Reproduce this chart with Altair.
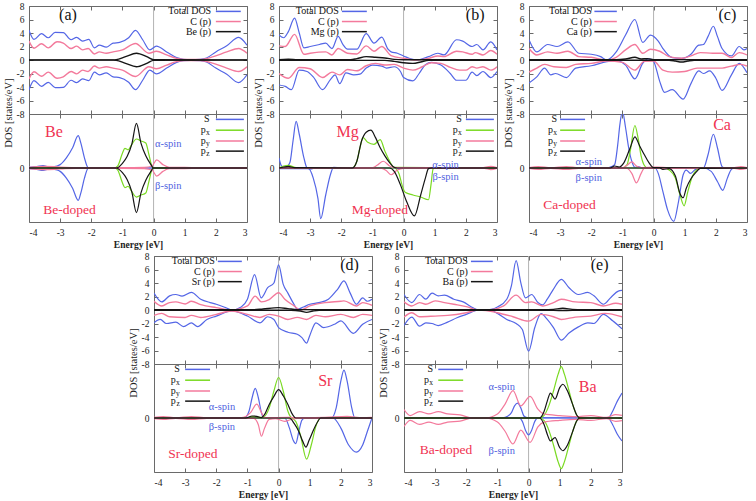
import altair as alt
import pandas as pd

# ---------------- data ----------------
XT = [-4, -3, -2, -1, 0, 1, 2, 3]
YT_TOP = [-8, -6, -4, -2, 0, 2, 4, 6, 8]
YT_BOT = [0]

# ---- (a) Be : spin symmetric ----
A_TOT = [(-4, 4.4), (-3.84, 3.05), (-3.6, 3.9), (-3.38, 3.3), (-3.16, 4.1), (-2.9, 4.05), (-2.65, 3.0), (-2.47, 3.35),
         (-2.28, 2.8), (-2.08, 3.05), (-1.9, 1.8), (-1.74, 2.2), (-1.52, 1.9), (-1.3, 2.5), (-1.09, 2.6), (-0.8, 3.3),
         (-0.58, 4.4), (-0.35, 3.0), (-0.12, 1.5), (0.09, 2.05), (0.42, 1.2), (0.74, 0.35), (0.95, 0.1), (1.2, 0.05),
         (1.5, 0.1), (1.7, 0.3), (2.0, 1.2), (2.35, 2.1), (2.73, 3.35), (3.0, 2.2)]
A_CP = [(-4, 2.8), (-3.84, 1.75), (-3.6, 2.4), (-3.38, 1.8), (-3.1, 2.7), (-2.9, 2.5), (-2.65, 1.7), (-2.47, 2.05),
        (-2.28, 1.5), (-2.1, 1.7), (-1.9, 0.9), (-1.74, 1.2), (-1.52, 1.0), (-1.3, 1.2), (-1.0, 1.5), (-0.58, 2.45),
        (-0.15, 1.0), (0.09, 1.3), (0.42, 0.75), (0.74, 0.25), (1.0, 0.08), (1.5, 0.08), (1.92, 0.5), (2.35, 1.2),
        (2.73, 1.7), (3.0, 1.0)]
A_X = [(-4, 0.02), (-1.3, 0.02), (-1.2, 0.05), (-0.9, 0.5), (-0.55, 1.0), (-0.2, 0.45), (0.0, 0.05), (3.0, 0.02)]
A_S = [(-4, 0.1), (-3.75, 0.2), (-3.55, 0.35), (-3.35, 0.15), (-3.1, 0.3), (-3.0, 0.5), (-2.8, 1.5), (-2.6, 3.0),
       (-2.42, 4.8), (-2.33, 3.6), (-2.22, 1.5), (-2.1, 0.05), (-1.8, 0.0), (3.0, 0.0)]
A_PX = [(-4, 0.0), (-1.25, 0.0), (-1.15, 0.3), (-1.0, 2.2), (-0.92, 2.9), (-0.82, 2.7), (-0.7, 3.5), (-0.55, 4.3),
        (-0.4, 4.0), (-0.25, 3.7), (-0.15, 2.0), (-0.05, 0.2), (0.0, 0.0), (3.0, 0.0)]
A_PY = [(-4, 0.1), (-3.5, 0.25), (-3.0, 0.15), (-2.5, 0.05), (-1.0, 0.05), (-0.3, 0.1), (-0.05, 0.3), (0.1, 1.2),
        (0.3, 0.5), (0.5, 0.1), (1.0, 0.08), (2.0, 0.05), (3.0, 0.05)]
A_PZ = [(-4, 0.0), (-1.2, 0.0), (-1.0, 0.7), (-0.85, 1.7), (-0.7, 3.5), (-0.55, 6.6), (-0.4, 3.6), (-0.25, 1.8),
        (-0.1, 0.6), (0.0, 0.0), (3.0, 0.0)]

# ---- (b) Mg ----
B_TOT_UP = [(-4, 3.7), (-3.85, 3.3), (-3.7, 4.2), (-3.5, 6.2), (-3.35, 4.0), (-3.2, 1.8), (-3.0, 2.0), (-2.7, 2.3),
            (-2.5, 2.5), (-2.3, 1.7), (-2.1, 3.5), (-1.95, 2.3), (-1.8, 1.6), (-1.5, 1.6), (-1.2, 3.9), (-0.95, 2.5),
            (-0.7, 3.4), (-0.5, 1.6), (-0.4, 1.2), (-0.2, 1.0), (0.0, 0.6), (0.2, 0.2), (0.45, 0.0), (0.8, 0.5),
            (1.1, 1.0), (1.3, 0.75), (1.7, 3.0), (1.9, 2.8), (2.2, 2.0), (2.35, 2.3), (2.55, 1.5), (2.8, 2.7), (3.0, 1.5)]
B_TOT_DN = [(-4, -3.7), (-3.8, -3.9), (-3.6, -4.4), (-3.35, -1.5), (-3.1, -1.7), (-2.9, -2.5), (-2.6, -4.4),
            (-2.35, -2.9), (-2.2, -2.2), (-2.05, -3.5), (-1.85, -1.9), (-1.6, -2.2), (-1.4, -2.1), (-1.2, -1.2),
            (-1.0, -0.75), (-0.7, -0.9), (-0.55, -1.2), (-0.3, -1.0), (-0.1, -1.7), (0.0, -2.6), (0.3, -3.1),
            (0.5, -2.0), (0.7, -0.7), (0.9, -0.35), (1.2, -0.75), (1.5, -2.0), (1.7, -3.0), (2.0, -3.0), (2.2, -1.8),
            (2.35, -2.3), (2.55, -1.7), (2.8, -2.6), (3.0, -1.7)]
B_CP_UP = [(-4, 2.1), (-3.8, 2.0), (-3.5, 3.8), (-3.2, 0.85), (-3.0, 1.0), (-2.5, 1.2), (-2.3, 0.75), (-2.1, 1.7),
           (-1.8, 1.0), (-1.5, 0.9), (-1.2, 2.1), (-0.95, 1.3), (-0.7, 2.0), (-0.4, 0.65), (0.0, 0.25), (0.4, 0.0),
           (0.8, 0.25), (1.1, 0.6), (1.3, 0.5), (1.7, 1.3), (1.9, 1.2), (2.2, 0.85), (2.3, 1.1), (2.55, 0.75),
           (2.8, 1.4), (3.0, 0.85)]
B_CP_DN = [(-4, -2.0), (-3.7, -2.7), (-3.35, -1.1), (-3.0, -1.3), (-2.6, -2.6), (-2.3, -1.8), (-2.05, -2.2),
           (-1.8, -1.4), (-1.5, -1.6), (-1.2, -0.85), (-0.9, -0.5), (-0.6, -0.75), (-0.3, -0.65), (0.0, -1.2),
           (0.3, -1.5), (0.6, -1.0), (0.9, -0.4), (1.2, -0.5), (1.5, -1.1), (1.8, -1.5), (2.0, -1.5), (2.2, -1.0),
           (2.35, -1.2), (2.55, -1.0), (2.8, -1.5), (3.0, -1.0)]
B_X_UP = [(-4, 0.05), (-3.7, 0.12), (-3.4, 0.05), (-1.7, 0.05), (-1.5, 0.2), (-1.2, 0.5), (-0.9, 0.4), (-0.6, 0.3),
          (-0.3, 0.1), (0.0, 0.03), (3.0, 0.03)]
B_X_DN = [(-4, -0.03), (-0.6, -0.05), (-0.3, -0.2), (0.0, -0.4), (0.3, -0.5), (0.55, -0.3), (0.8, -0.05), (3.0, -0.03)]
B_S_UP = [(-4, 1.5), (-3.92, 0.3), (-3.8, 0.0), (-3.65, 0.8), (-3.55, 4.0), (-3.45, 6.9), (-3.35, 5.0), (-3.2, 1.5),
          (-3.1, 0.0), (-3.0, -0.15), (-2.8, 0.0), (3.0, 0.0)]
B_S_DN = [(-4, -0.1), (-3.05, -0.1), (-2.9, -1.5), (-2.75, -4.5), (-2.66, -7.5), (-2.5, -4.0), (-2.35, -1.0),
          (-2.25, 0.1), (-2.0, 0.0), (3.0, 0.0)]
B_PX_UP = [(-4, 0.0), (-3.85, 0.3), (-3.7, 0.4), (-3.5, 0.1), (-3.3, 0.0), (-1.65, 0.0), (-1.5, 1.0), (-1.4, 3.0),
           (-1.3, 4.5), (-1.15, 3.8), (-0.95, 3.5), (-0.75, 4.2), (-0.6, 2.5), (-0.47, 1.2), (-0.3, 0.1), (3.0, 0.0)]
B_PX_DN = [(-4, 0.0), (-0.3, 0.0), (-0.15, -0.8), (-0.05, -2.5), (0.05, -3.6), (0.3, -4.0), (0.55, -4.3), (0.8, -4.7),
           (0.88, -2.5), (0.95, -0.1), (1.0, 0.0), (3.0, 0.0)]
B_PY_UP = [(-4, 0.05), (-3.0, 0.05), (-1.0, 0.05), (-0.85, 0.4), (-0.65, 1.0), (-0.45, 0.3), (-0.3, 0.05), (2.5, 0.05),
           (2.8, 0.25), (3.0, 0.05)]
B_PY_DN = [(-4, -0.05), (-0.7, -0.05), (-0.55, -0.4), (-0.4, -1.0), (-0.2, -0.3), (0.0, -0.05), (2.6, -0.05),
           (2.8, -0.25), (3.0, -0.05)]
B_PZ_UP = [(-4, 0.0), (-3.85, 0.15), (-3.7, 0.25), (-3.5, 0.05), (-1.65, 0.0), (-1.5, 1.0), (-1.35, 4.0), (-1.2, 5.3),
           (-1.05, 5.6), (-0.9, 4.5), (-0.75, 3.0), (-0.6, 1.8), (-0.45, 0.8), (-0.3, 0.1), (-0.2, 0.0), (3.0, 0.0)]
B_PZ_DN = [(-4, 0.0), (-0.45, 0.0), (-0.3, -0.5), (-0.1, -2.5), (0.1, -5.0), (0.35, -7.1), (0.55, -4.0), (0.7, -1.5),
           (0.8, -0.1), (0.9, 0.0), (3.0, 0.0)]

# ---- (c) Ca ----
C_TOT_UP = [(-4, 3.0), (-3.75, 1.2), (-3.4, 2.3), (-3.1, 2.0), (-2.75, 2.7), (-2.4, 1.0), (-2.0, 0.85), (-1.7, 0.5),
            (-1.5, 0.0), (-1.2, 1.2), (-0.9, 3.7), (-0.6, 6.0), (-0.35, 2.6), (-0.1, 3.7), (0.15, 2.8), (0.3, 1.7),
            (0.6, 0.35), (0.9, 0.25), (1.2, 0.85), (1.45, 2.2), (1.6, 2.3), (1.75, 3.5), (1.92, 5.0), (2.05, 3.5),
            (2.2, 1.7), (2.5, 0.6), (2.75, 2.0), (2.9, 1.5), (3.0, 1.7)]
C_TOT_DN = [(-4, -3.4), (-3.75, -2.5), (-3.5, -1.2), (-3.3, -2.2), (-3.15, -2.0), (-2.8, -2.6), (-2.5, -1.2),
            (-2.0, -0.85), (-1.5, -0.25), (-1.2, -0.1), (-0.9, -0.75), (-0.6, -2.8), (-0.35, -0.5), (-0.15, 0.2),
            (0.0, -0.2), (0.2, -3.2), (0.35, -4.8), (0.6, -4.4), (0.95, -5.8), (1.2, -3.5), (1.45, -1.6), (1.6, -2.0),
            (1.8, -1.6), (2.0, -2.7), (2.2, -4.5), (2.5, -2.2), (2.75, -0.5), (3.0, -1.9)]
C_CP_UP = [(-4, 1.7), (-3.75, 0.75), (-3.4, 1.2), (-3.1, 1.0), (-2.75, 1.3), (-2.4, 0.5), (-2.0, 0.4), (-1.5, 0.0),
           (-1.2, 0.4), (-0.9, 1.5), (-0.6, 2.3), (-0.35, 1.0), (-0.1, 1.6), (0.2, 1.3), (0.5, 0.5), (0.9, 0.25),
           (1.2, 0.6), (1.5, 1.1), (1.9, 1.0), (2.2, 1.0), (2.5, 0.35), (2.75, 1.1), (3.0, 0.75)]
C_CP_DN = [(-4, -1.8), (-3.75, -1.2), (-3.5, -0.65), (-3.2, -1.0), (-2.8, -1.1), (-2.5, -0.65), (-2.0, -0.5),
           (-1.5, -0.15), (-1.0, -0.35), (-0.6, -1.5), (-0.3, -0.2), (0.0, -0.15), (0.3, -1.5), (0.6, -1.8),
           (1.0, -1.7), (1.4, -1.2), (1.8, -1.2), (2.2, -1.2), (2.5, -0.9), (2.8, -0.65), (3.0, -0.9)]
C_X_UP = [(-4, 0.03), (-1.2, 0.03), (-0.9, 0.15), (-0.6, 0.4), (-0.4, 0.15), (-0.2, 0.2), (0.0, 0.05), (3.0, 0.03)]
C_X_DN = [(-4, -0.03), (0.5, -0.03), (0.7, -0.15), (0.9, -0.3), (1.1, -0.15), (1.3, -0.03), (3.0, -0.03)]
C_S_UP = [(-4, 0.0), (-1.5, 0.0), (-1.35, 0.2), (-1.25, 0.5), (-1.15, 3.5), (-1.08, 6.5), (-1.0, 8.4), (-0.9, 6.0),
          (-0.8, 3.0), (-0.7, 1.0), (-0.6, 0.1), (-0.5, 0.2), (-0.35, 0.0), (1.6, 0.0), (1.75, 2.0), (1.92, 5.0),
          (2.05, 3.0), (2.2, 0.2), (2.3, 0.0), (3.0, 0.0)]
C_S_DN = [(-4, 0.0), (0.05, 0.0), (0.15, -0.8), (0.3, -3.5), (0.45, -6.2), (0.65, -7.9), (0.8, -5.0), (0.95, -1.0),
          (1.05, -0.3), (1.18, -0.8), (1.35, -0.2), (1.6, 0.0), (1.85, -0.5), (2.05, -2.0), (2.22, -3.3), (2.37, -1.5),
          (2.5, -0.2), (2.6, 0.0), (3.0, 0.0)]
C_PX_UP = [(-4, 0.0), (-1.0, 0.0), (-0.85, 0.5), (-0.75, 2.5), (-0.6, 6.3), (-0.5, 4.5), (-0.4, 1.8), (-0.3, 0.4),
           (-0.2, 0.0), (3.0, 0.0)]
C_PX_DN = [(-4, 0.0), (0.35, 0.0), (0.5, -0.3), (0.7, -1.5), (0.85, -4.0), (0.98, -5.6), (1.1, -3.5), (1.25, -1.2),
           (1.4, -0.2), (1.5, 0.0), (3.0, 0.0)]
C_PY_UP = [(-4, 0.05), (-3.7, 0.2), (-3.3, 0.05), (-2.8, 0.2), (-2.4, 0.05), (-1.0, 0.05), (-0.85, 0.4), (-0.7, 0.9),
           (-0.55, 0.3), (-0.4, 0.05), (0.1, 0.15), (0.5, 0.05), (2.6, 0.05), (2.8, 0.2), (3.0, 0.05)]
C_PY_DN = [(-4, -0.05), (-3.7, -0.2), (-3.3, -0.05), (-2.8, -0.2), (-2.4, -0.05), (-0.85, -0.05), (-0.7, -0.8),
           (-0.55, -2.2), (-0.4, -0.8), (-0.3, -0.05), (2.6, -0.05), (2.8, -0.2), (3.0, -0.05)]
C_PZ_UP = [(-4, 0.0), (-1.4, 0.0), (-1.25, 0.3), (-1.1, 0.15), (-0.95, 0.8), (-0.75, 3.0), (-0.6, 4.6), (-0.45, 3.3),
           (-0.3, 2.0), (-0.15, 0.8), (0.0, 0.05), (3.0, 0.0)]
C_PZ_DN = [(-4, 0.0), (0.2, 0.0), (0.3, -0.2), (0.5, -0.1), (0.7, -1.2), (0.85, -3.8), (0.95, -4.4), (1.05, -3.0),
           (1.2, -1.6), (1.35, -0.7), (1.5, -0.05), (3.0, 0.0)]

# ---- (d) Sr ----
D_TOT_UP = [(-4, 2.5), (-3.75, 1.2), (-3.5, 2.1), (-3.3, 2.3), (-3.1, 2.05), (-2.8, 2.6), (-2.5, 1.6), (-2.2, 1.1),
            (-2.0, 0.85), (-1.7, 0.35), (-1.5, 0.0), (-1.2, 0.45), (-1.0, 1.6), (-0.77, 5.25), (-0.56, 1.8),
            (-0.35, 3.3), (-0.15, 4.0), (0.0, 6.7), (0.15, 3.8), (0.3, 2.5), (0.5, 0.8), (0.6, 0.1), (0.8, 0.45),
            (1.0, 0.85), (1.3, 1.1), (1.6, 1.6), (1.9, 3.1), (2.1, 4.3), (2.3, 2.5), (2.5, 0.85), (2.7, 1.8),
            (2.85, 1.3), (3.0, 1.6)]
D_TOT_DN = [(-4, -1.9), (-3.8, -1.4), (-3.6, -2.0), (-3.3, -1.8), (-3.05, -2.45), (-2.8, -1.9), (-2.6, -2.45),
            (-2.3, -1.4), (-2.0, -0.9), (-1.5, -0.15), (-1.0, -0.9), (-0.6, -1.9), (-0.35, -1.0), (-0.15, -1.4),
            (0.0, -2.6), (0.3, -3.3), (0.6, -3.6), (0.75, -4.1), (0.9, -4.9), (1.0, -3.8), (1.2, -1.9), (1.45, -2.6),
            (1.8, -2.1), (2.0, -1.6), (2.4, -3.45), (2.7, -2.1), (3.0, -1.4)]
D_CP_UP = [(-4, 1.3), (-3.75, 0.6), (-3.5, 1.1), (-3.3, 1.2), (-3.0, 0.9), (-2.8, 1.3), (-2.5, 0.8), (-2.0, 0.35),
           (-1.5, 0.0), (-1.0, 0.6), (-0.75, 2.05), (-0.55, 1.2), (-0.3, 1.55), (0.0, 2.55), (0.2, 1.6), (0.5, 0.6),
           (0.7, 0.0), (1.0, 0.6), (1.5, 1.1), (2.0, 1.3), (2.1, 1.35), (2.5, 0.6), (2.7, 1.1), (3.0, 0.7)]
D_CP_DN = [(-4, -0.8), (-3.75, -0.5), (-3.5, -1.0), (-3.0, -1.1), (-2.8, -0.8), (-2.5, -1.1), (-2.0, -0.65),
           (-1.5, -0.15), (-1.0, -0.65), (-0.6, -1.1), (-0.3, -0.65), (0.0, -0.9), (0.3, -1.4), (0.6, -1.1),
           (0.9, -1.4), (1.2, -0.8), (1.5, -1.0), (2.0, -0.65), (2.4, -1.1), (2.7, -0.65), (3.0, -0.8)]
D_X_UP = [(-4, 0.03), (-0.8, 0.03), (-0.5, 0.15), (0.0, 0.35), (0.3, 0.2), (0.6, 0.05), (3.0, 0.03)]
D_X_DN = [(-4, -0.03), (0.4, -0.03), (0.7, -0.15), (0.9, -0.35), (1.1, -0.15), (1.3, -0.03), (3.0, -0.03)]
D_S_UP = [(-4, 0.0), (-1.1, 0.0), (-0.95, 1.0), (-0.85, 3.0), (-0.75, 4.4), (-0.65, 3.0), (-0.55, 0.8), (-0.48, 0.0),
          (1.7, 0.0), (1.85, 1.5), (2.0, 5.5), (2.1, 7.1), (2.2, 5.5), (2.35, 1.5), (2.45, 0.0), (3.0, 0.0)]
D_S_DN = [(-4, 0.0), (0.2, 0.0), (0.35, -1.5), (0.47, -3.3), (0.55, -3.8), (0.65, -2.0), (0.75, -0.3), (0.85, 0.0),
          (1.75, 0.0), (2.0, -1.5), (2.25, -4.0), (2.5, -5.05), (2.7, -4.0), (2.85, -2.0), (3.0, 0.0)]
D_PX_UP = [(-4, 0.0), (-1.0, 0.0), (-0.85, 0.2), (-0.7, 0.15), (-0.5, 0.1), (-0.3, 1.5), (-0.15, 4.0), (0.0, 6.0),
           (0.15, 4.0), (0.3, 1.0), (0.45, 0.0), (3.0, 0.0)]
D_PX_DN = [(-4, 0.0), (0.4, 0.0), (0.55, -0.5), (0.7, -2.5), (0.9, -6.1), (1.05, -4.0), (1.2, -1.2), (1.35, 0.0),
           (3.0, 0.0)]
D_PY_UP = [(-4, 0.1), (-3.7, 0.2), (-3.3, 0.05), (-2.8, 0.2), (-2.3, 0.05), (-1.2, 0.05), (-0.9, 0.8), (-0.7, 2.05),
           (-0.55, 0.8), (-0.45, 0.05), (0.3, 0.1), (0.8, 0.05), (1.5, 0.1), (2.2, 0.25), (2.7, 0.05), (3.0, 0.1)]
D_PY_DN = [(-4, -0.1), (-3.7, -0.2), (-3.3, -0.05), (-2.8, -0.2), (-2.3, -0.05), (-0.8, -0.05), (-0.65, -1.0),
           (-0.55, -2.7), (-0.45, -1.5), (-0.3, -0.2), (-0.1, -0.1), (0.2, -0.5), (0.35, -0.3), (0.6, -0.05),
           (3.0, -0.05)]
D_PZ_UP = [(-4, 0.0), (-1.05, 0.0), (-0.85, 0.3), (-0.7, 0.25), (-0.55, 0.05), (-0.45, 0.5), (-0.3, 2.0),
           (-0.15, 3.2), (0.0, 4.2), (0.15, 3.3), (0.3, 2.0), (0.45, 0.5), (0.55, 0.0), (3.0, 0.0)]
D_PZ_DN = [(-4, 0.0), (0.35, 0.0), (0.5, -0.8), (0.65, -2.0), (0.78, -3.5), (0.88, -4.3), (0.98, -3.3), (1.1, -2.0),
           (1.25, -0.6), (1.35, 0.0), (3.0, 0.0)]

# ---- (e) Ba ----
E_TOT_UP = [(-4, 2.3), (-3.75, 1.1), (-3.5, 2.3), (-3.3, 1.6), (-3.1, 2.5), (-2.9, 2.1), (-2.7, 2.2), (-2.4, 1.6),
            (-2.1, 1.2), (-1.8, 0.35), (-1.6, 0.0), (-1.4, 0.0), (-1.2, 0.1), (-1.0, 0.45), (-0.7, 1.6), (-0.55, 3.6),
            (-0.4, 7.3), (-0.25, 4.05), (-0.1, 1.8), (0.1, 2.3), (0.3, 1.1), (0.45, 0.75), (0.6, 1.6), (0.8, 3.1),
            (1.05, 4.55), (1.3, 3.3), (1.6, 2.3), (1.9, 2.6), (2.1, 2.1), (2.4, 0.85), (2.65, 1.9), (2.88, 2.8),
            (3.0, 2.9)]
E_TOT_DN = [(-4, -2.3), (-3.75, -1.05), (-3.5, -2.4), (-3.3, -1.9), (-3.1, -2.0), (-2.9, -2.3), (-2.6, -1.8),
            (-2.3, -1.15), (-2.0, -0.65), (-1.6, 0.0), (-1.2, -0.1), (-1.0, -0.5), (-0.7, -1.4), (-0.4, -2.0),
            (-0.2, -2.9), (0.0, -6.1), (0.2, -2.6), (0.4, -0.55), (0.6, -1.4), (0.8, -2.6), (1.05, -4.45),
            (1.3, -3.4), (1.6, -2.5), (1.9, -1.9), (2.1, -2.0), (2.4, -0.65), (2.7, -1.6), (3.0, -2.8)]
E_CP_UP = [(-4, 1.2), (-3.75, 0.6), (-3.5, 1.1), (-3.3, 0.85), (-3.0, 1.35), (-2.7, 1.1), (-2.4, 0.85), (-2.0, 0.5),
           (-1.6, 0.0), (-1.2, 0.05), (-0.8, 0.6), (-0.4, 2.2), (-0.1, 1.1), (0.1, 1.2), (0.45, 0.6), (0.8, 1.1),
           (1.05, 1.6), (1.5, 1.2), (2.0, 1.1), (2.4, 0.6), (2.8, 1.0), (3.0, 0.85)]
E_CP_DN = [(-4, -1.05), (-3.75, -0.4), (-3.5, -1.0), (-3.0, -0.9), (-2.6, -0.8), (-2.0, -0.4), (-1.6, 0.0),
           (-1.0, -0.4), (-0.5, -1.0), (0.0, -1.65), (0.4, -0.65), (0.8, -1.0), (1.05, -1.4), (1.5, -1.05),
           (2.0, -0.9), (2.45, -0.5), (3.0, -1.0)]
E_X_UP = [(-4, 0.03), (0.5, 0.03), (0.8, 0.1), (1.1, 0.25), (1.4, 0.1), (1.7, 0.03), (3.0, 0.03)]
E_X_DN = [(-4, -0.03), (0.5, -0.03), (1.1, -0.08), (1.7, -0.03), (3.0, -0.03)]
E_S_UP = [(-4, 0.0), (-0.9, 0.0), (-0.75, 0.1), (-0.55, 0.8), (-0.45, 1.8), (-0.35, 2.2), (-0.25, 1.5), (-0.15, 0.3),
          (-0.05, 0.05), (2.55, 0.0), (2.7, 1.0), (2.85, 2.5), (3.0, 3.7)]
E_S_DN = [(-4, 0.0), (-0.3, 0.0), (-0.2, -0.5), (-0.1, -1.8), (0.0, -2.5), (0.1, -1.8), (0.2, -0.5), (0.3, 0.0),
          (2.55, 0.0), (2.7, -1.0), (2.85, -2.4), (3.0, -3.4)]
E_PX_UP = [(-4, 0.0), (0.35, 0.0), (0.5, 0.4), (0.65, 1.8), (0.8, 4.0), (0.95, 6.5), (1.05, 7.6), (1.15, 6.5),
           (1.3, 4.0), (1.45, 1.5), (1.6, 0.1), (1.7, 0.0), (3.0, 0.0)]
E_PX_DN = [(-4, 0.0), (0.35, 0.0), (0.5, -0.4), (0.65, -1.8), (0.8, -4.0), (0.95, -6.5), (1.05, -7.5), (1.15, -6.5),
           (1.3, -4.0), (1.45, -1.5), (1.6, -0.1), (1.7, 0.0), (3.0, 0.0)]
E_PY_UP = [(-4, 1.25), (-3.8, 0.35), (-3.5, 0.95), (-3.2, 0.6), (-2.9, 0.95), (-2.6, 0.6), (-2.2, 0.45), (-1.8, 0.0),
           (-1.4, 0.0), (-1.0, 0.6), (-0.75, 2.1), (-0.5, 4.05), (-0.25, 1.8), (0.05, 3.2), (0.3, 1.3), (0.5, 0.6),
           (1.0, 0.35), (1.5, 0.2), (2.0, 0.35), (2.5, 0.1), (2.8, 0.5), (3.0, 0.4)]
E_PY_DN = [(-4, -1.25), (-3.8, -0.35), (-3.5, -0.95), (-3.2, -0.6), (-2.9, -0.95), (-2.6, -0.6), (-2.2, -0.45),
           (-1.8, 0.0), (-1.4, 0.0), (-1.0, -0.6), (-0.75, -2.0), (-0.5, -3.85), (-0.25, -1.8), (0.05, -3.6),
           (0.3, -1.3), (0.5, -0.6), (1.0, -0.35), (1.5, -0.2), (2.0, -0.35), (2.5, -0.1), (2.8, -0.5), (3.0, -0.4)]
E_PZ_UP = [(-4, 0.0), (0.35, 0.0), (0.5, 1.0), (0.6, 2.5), (0.7, 3.7), (0.85, 2.8), (1.0, 4.5), (1.1, 5.0),
           (1.25, 4.0), (1.4, 2.2), (1.55, 0.4), (1.65, 0.0), (3.0, 0.0)]
E_PZ_DN = [(-4, 0.0), (0.35, 0.0), (0.5, -1.0), (0.6, -2.4), (0.7, -3.4), (0.85, -2.9), (1.0, -4.4), (1.1, -4.85),
           (1.25, -4.0), (1.4, -2.2), (1.55, -0.4), (1.65, 0.0), (3.0, 0.0)]

# ---------------- styling ----------------
BLUE = "#5466e6"
PINK = "#f37a9c"
BLACK = "#151515"
GREEN = "#7ada22"
RED = "#f03352"
SPIN = "#4f5fe0"
ZERO = "#b4b4b4"
FRAME = "#6a6a6a"
SERIF = "Liberation Serif"

W, H = 218, 108
XS = alt.Scale(domain=[-4, 3], nice=False, zero=False)
YS = alt.Scale(domain=[-8, 8], nice=False, zero=False)
LBL = "'' + datum.value"


def mirror(pts):
    return [(x, -y) for x, y in pts]


def line_frame(series):
    rows = []
    for i, (pts, color, w) in enumerate(series):
        for x, y in pts:
            rows.append({"E": x, "v": y, "k": f"s{i:02d}", "c": color, "w": w})
    return pd.DataFrame(rows)


def tick_layer(xo, yo, yvals):
    d = pd.DataFrame({"E": [0.0], "v": [0.0]})
    common = dict(labels=False, domain=False, grid=False, ticks=True, tickSize=4, offset=-4,
                  tickColor=FRAME, tickWidth=1, title=None)
    return alt.Chart(d).mark_point(opacity=0).encode(
        x=alt.X("E:Q", scale=XS, axis=alt.Axis(orient=xo, values=XT, **common)),
        y=alt.Y("v:Q", scale=YS, axis=alt.Axis(orient=yo, values=yvals, **common)),
    )


def text_layer(rows, align="center", dx=0, dy=0, weight="normal"):
    df = pd.DataFrame(rows, columns=["t", "E", "v", "c", "s"])
    return alt.Chart(df).mark_text(font=SERIF, align=align, baseline="middle", dx=dx, dy=dy,
                                   fontWeight=weight).encode(
        x=alt.X("E:Q", scale=XS, axis=None),
        y=alt.Y("v:Q", scale=YS, axis=None),
        text="t:N",
        color=alt.Color("c:N", scale=None),
        size=alt.Size("s:Q", scale=None),
    )


def legend_layers(lx, x1, x2, rows):
    # rows: (label, subscript, colour, y)
    layers = []
    plain = [(lab, lx, y, "#111111", 10) for lab, sub, c, y in rows if not sub]
    withsub = [(lab, lx, y, "#111111", 10) for lab, sub, c, y in rows if sub]
    subs = [(sub, lx, y, "#111111", 7.5) for lab, sub, c, y in rows if sub]
    if plain:
        layers.append(text_layer(plain, align="right"))
    if withsub:
        layers.append(text_layer(withsub, align="right", dx=-4))
        layers.append(text_layer(subs, align="right", dy=3))
    sd = pd.DataFrame([{"a": x1, "b": x2, "v": y, "c": c} for lab, sub, c, y in rows])
    layers.append(alt.Chart(sd).mark_rule(strokeWidth=1.5).encode(
        x=alt.X("a:Q", scale=XS, axis=None), x2="b:Q",
        y=alt.Y("v:Q", scale=YS, axis=None),
        color=alt.Color("c:N", scale=None)))
    return layers


def subplot(series, legend, notes, top):
    df = line_frame(series)
    if top:
        xax = None
        yax = alt.Axis(values=YT_TOP, labelExpr=LBL, ticks=False, domain=False, grid=False, labelPadding=5,
                       title="DOS [states/eV]", titleY=H - 36, titleAlign="right", titleAngle=270,
                       titleFontSize=10.5, titlePadding=3)
    else:
        xax = alt.Axis(values=XT, labelExpr=LBL, ticks=False, domain=False, grid=False, labelPadding=5,
                       title="Energy [eV]", titlePadding=3, titleFontWeight="bold")
        yax = alt.Axis(values=YT_BOT, labelExpr=LBL, ticks=False, domain=False, grid=False, labelPadding=5,
                       title=None)
    zero = alt.Chart(pd.DataFrame({"E": [0.0]})).mark_rule(color=ZERO, strokeWidth=1).encode(
        x=alt.X("E:Q", scale=XS, axis=None))
    lines = alt.Chart(df).mark_line(interpolate="monotone", clip=True).encode(
        x=alt.X("E:Q", scale=XS, axis=xax),
        y=alt.Y("v:Q", scale=YS, axis=yax),
        detail="k:N",
        color=alt.Color("c:N", scale=None),
        size=alt.Size("w:Q", scale=None),
    )
    yvals = YT_TOP if top else YT_BOT
    layers = [zero, lines, tick_layer("bottom", "left", yvals), tick_layer("top", "right", yvals)]
    layers += legend_layers(*legend)
    layers.append(text_layer(notes))
    return alt.layer(*layers).resolve_axis(x="independent", y="independent").properties(width=W, height=H)


def panel(top_series, top_leg, top_notes, bot_series, bot_leg, bot_notes):
    return alt.vconcat(subplot(top_series, top_leg, top_notes, True),
                       subplot(bot_series, bot_leg, bot_notes, False),
                       spacing=0, bounds="flush")


def top_series(tu, td, cu, cd, xu, xd):
    return [(tu, BLUE, 1.2), (td, BLUE, 1.2), (cu, PINK, 1.4), (cd, PINK, 1.4), (xu, BLACK, 1.4), (xd, BLACK, 1.4)]


def bot_series(su, sd, pxu, pxd, pyu, pyd, pzu, pzd):
    return [(su, BLUE, 1.2), (sd, BLUE, 1.2), (pxu, GREEN, 1.2), (pxd, GREEN, 1.2),
            (pyu, PINK, 1.2), (pyd, PINK, 1.2), (pzu, BLACK, 1.2), (pzd, BLACK, 1.2)]


def top_legend(lx, x1, x2, el):
    return (lx, x1, x2, [("Total DOS", "", BLUE, 7.2), ("C (p)", "", PINK, 5.7), (f"{el} (p)", "", BLACK, 4.2)])


def bot_legend(lx, x1, x2):
    return (lx, x1, x2, [("S", "", BLUE, 7.2), ("p", "x", GREEN, 5.6), ("p", "y", PINK, 4.0), ("p", "z", BLACK, 2.5)])


def notes(tag, tx, el, ex, ey, dx, dyv, ax, ay, bx, by):
    top = [(tag, tx, 6.7, "#111111", 16)]
    bot = [(el, ex, ey, RED, 16), (f"{el}-doped", dx, dyv, RED, 13.5),
           ("α-spin", ax, ay, SPIN, 10.5), ("β-spin", bx, by, SPIN, 10.5)]
    return top, bot


na_t, na_b = notes("(a)", -2.75, "Be", -3.2, 5.4, -2.7, -6.2, 0.47, 3.5, 0.47, -2.7)
nb_t, nb_b = notes("(b)", 2.3, "Mg", -1.8, 5.4, -0.76, -6.2, 1.35, 0.5, 1.35, -1.3)
nc_t, nc_b = notes("(c)", 2.37, "Ca", 2.2, 6.3, -2.7, -5.5, -2.08, 0.9, -2.08, -1.5)
nd_t, nd_b = notes("(d)", 2.28, "Sr", 1.5, 5.5, -2.75, -5.3, -1.82, 1.6, -1.82, -1.3)
ne_t, ne_b = notes("(e)", 2.28, "Ba", 1.9, 4.6, -2.65, -4.7, -0.86, 4.6, -0.86, -4.9)

pa = panel(top_series(A_TOT, mirror(A_TOT), A_CP, mirror(A_CP), A_X, mirror(A_X)),
           top_legend(1.85, 2.0, 2.8, "Be"), na_t,
           bot_series(A_S, mirror(A_S), A_PX, mirror(A_PX), A_PY, mirror(A_PY), A_PZ, mirror(A_PZ)),
           bot_legend(1.8, 2.0, 2.9), na_b)
pb = panel(top_series(B_TOT_UP, B_TOT_DN, B_CP_UP, B_CP_DN, B_X_UP, B_X_DN),
           top_legend(-2.08, -1.98, -1.18, "Mg"), nb_t,
           bot_series(B_S_UP, B_S_DN, B_PX_UP, B_PX_DN, B_PY_UP, B_PY_DN, B_PZ_UP, B_PZ_DN),
           bot_legend(1.87, 2.0, 2.9), nb_b)
pc = panel(top_series(C_TOT_UP, C_TOT_DN, C_CP_UP, C_CP_DN, C_X_UP, C_X_DN),
           top_legend(-1.98, -1.9, -1.18, "Ca"), nc_t,
           bot_series(C_S_UP, C_S_DN, C_PX_UP, C_PX_DN, C_PY_UP, C_PY_DN, C_PZ_UP, C_PZ_DN),
           bot_legend(-3.1, -3.0, -2.2), nc_b)
pd_ = panel(top_series(D_TOT_UP, D_TOT_DN, D_CP_UP, D_CP_DN, D_X_UP, D_X_DN),
            top_legend(-2.05, -1.95, -1.18, "Sr"), nd_t,
            bot_series(D_S_UP, D_S_DN, D_PX_UP, D_PX_DN, D_PY_UP, D_PY_DN, D_PZ_UP, D_PZ_DN),
            bot_legend(-3.17, -3.0, -2.2), nd_b)
pe = panel(top_series(E_TOT_UP, E_TOT_DN, E_CP_UP, E_CP_DN, E_X_UP, E_X_DN),
           top_legend(-1.95, -1.85, -1.15, "Ba"), ne_t,
           bot_series(E_S_UP, E_S_DN, E_PX_UP, E_PX_DN, E_PY_UP, E_PY_DN, E_PZ_UP, E_PZ_DN),
           bot_legend(-3.07, -2.9, -2.1), ne_b)

row1 = alt.hconcat(pa, pb, pc, spacing=4)
row2 = alt.hconcat(pd_, pe, spacing=4)

chart = alt.vconcat(row1, row2, spacing=0, center=True).properties(
    padding={"left": 2, "top": 0, "right": 0, "bottom": 0},
    background="white",
).configure_view(stroke=FRAME, strokeWidth=1).configure_axis(
    labelFont=SERIF, labelFontSize=9.5, labelColor="#222222",
    titleFont=SERIF, titleFontSize=9.5, titleColor="#222222", titleFontWeight="normal",
)

chart.save("out.html", embed_options={"renderer": "svg", "actions": False})
